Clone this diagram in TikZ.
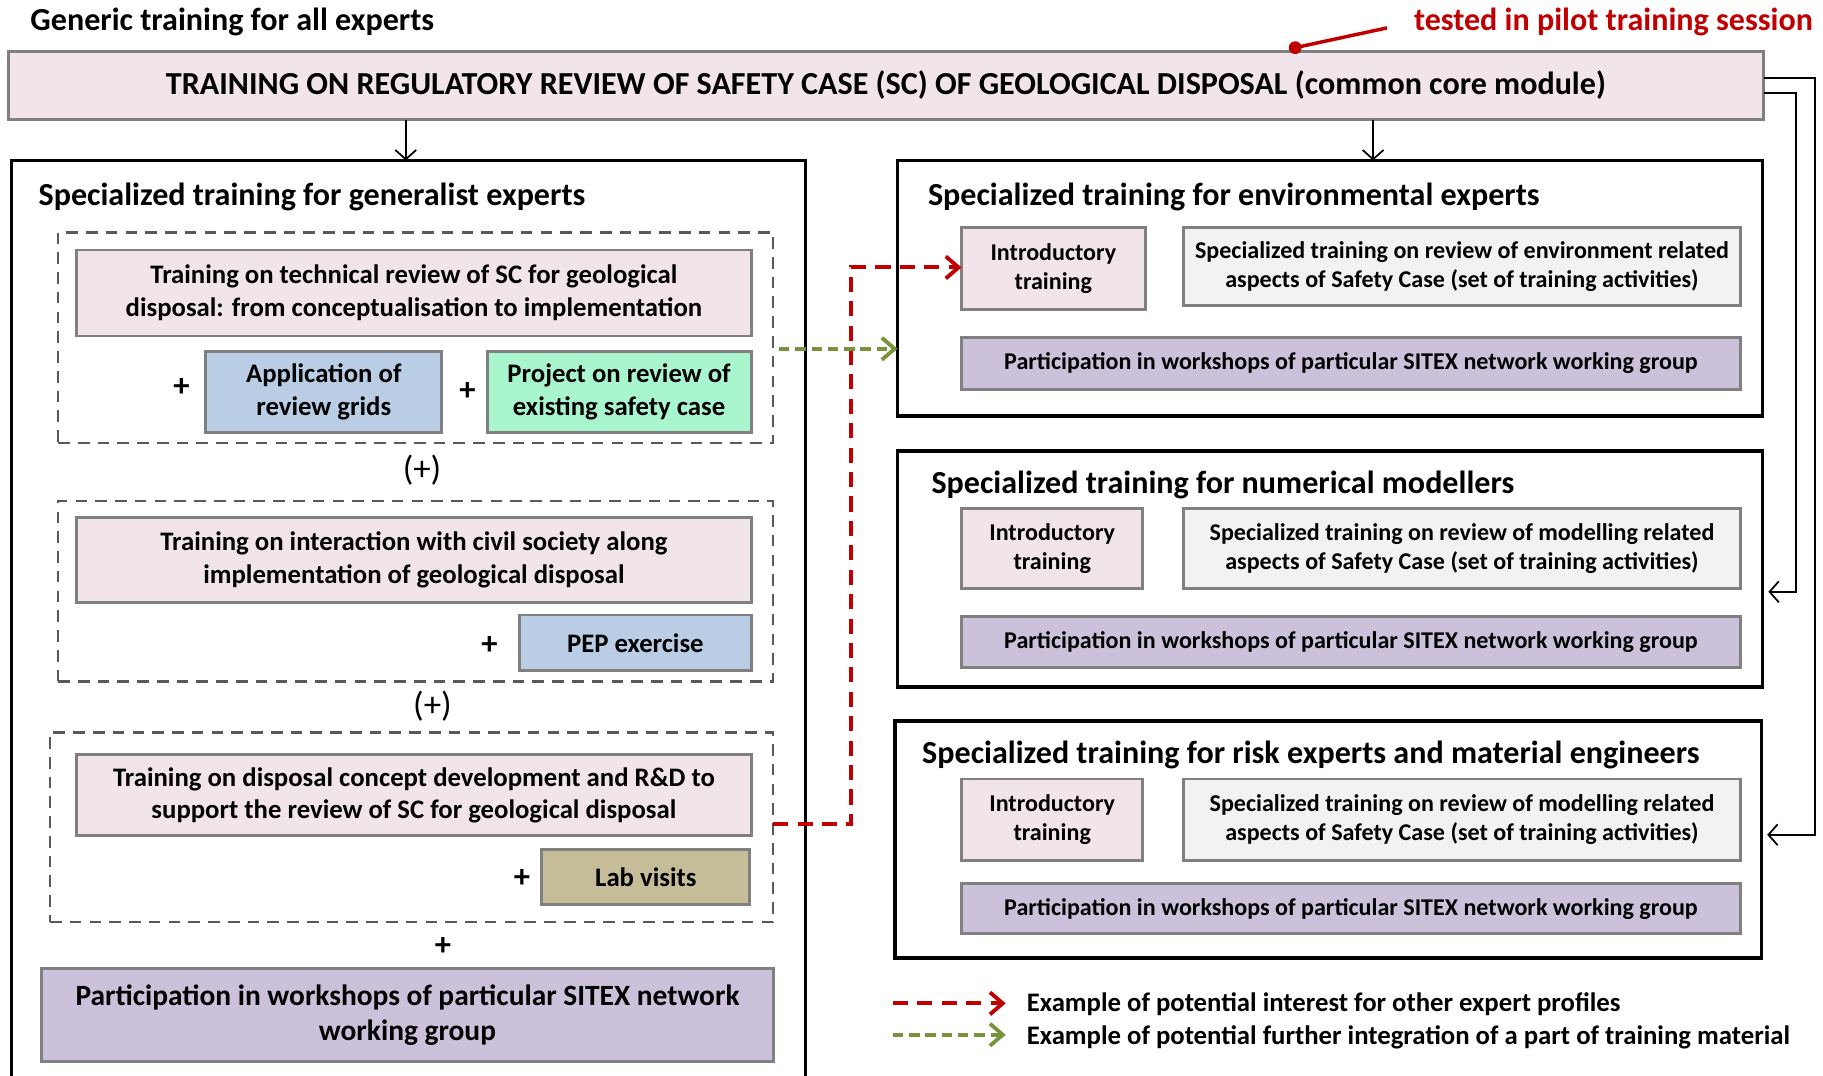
\documentclass[tikz,border=0pt]{standalone}
\usepackage{fontspec}
\setmainfont{Carlito}
\usetikzlibrary{arrows.meta,calc}
\definecolor{pinkf}{HTML}{F2E4EB}
\definecolor{blueff}{HTML}{B9CDE5}
\definecolor{greenff}{HTML}{A9F5CE}
\definecolor{tanf}{HTML}{C4BD97}
\definecolor{lavf}{HTML}{CCC1DA}
\definecolor{grayf}{HTML}{F2F2F2}
\definecolor{grayb}{HTML}{808080}
\definecolor{dashc}{HTML}{595959}
\definecolor{redc}{HTML}{C00000}
\definecolor{greenc}{HTML}{77933C}
\newcommand{\rbox}[7]{%
 \pgfmathsetmacro{\rbcx}{(#3+#5)/2}%
 \pgfmathsetmacro{\rbcy}{(#4+#6)/2}%
 \pgfmathsetmacro{\rbw}{#5-#3}%
 \pgfmathsetmacro{\rbh}{#6-#4}%
 \node[#2, minimum width=\rbw pt, minimum height=\rbh pt] (#1) at (\rbcx,\rbcy) {#7};}
\tikzset{
 gbox/.style={draw=grayb, line width=2.5pt, align=center, inner sep=0pt, outer sep=0pt},
 lfont/.style={font=\bfseries\fontsize{23}{28}\selectfont},
 rfont/.style={font=\bfseries\fontsize{20.7}{25}\selectfont},
 pinkbox/.style={gbox, fill=pinkf},
 bluebox/.style={gbox, fill=blueff},
 greenbox/.style={gbox, fill=greenff},
 tanbox/.style={gbox, fill=tanf},
 lavbox/.style={gbox, fill=lavf},
 graybox/.style={gbox, fill=grayf},
 dashgroup/.style={draw=dashc, line width=2.3pt, dash pattern=on 10pt off 7pt, inner sep=0pt, outer sep=0pt},
 blackframe/.style={draw=black, line width=3pt, inner sep=0pt, outer sep=0pt},
 head/.style={font=\bfseries\fontsize{27.6}{32}\selectfont, inner sep=0pt, anchor=west},
 plus/.style={font=\bfseries\fontsize{28}{30}\selectfont, inner sep=0pt},
 paren/.style={font=\fontsize{30}{32}\selectfont, inner sep=0pt},
 legtext/.style={font=\bfseries\fontsize{23}{26}\selectfont, inner sep=0pt, anchor=west},
 thinarrow/.style={draw=black, line width=1.5pt, -{Straight Barb[length=8pt,width=18pt]}},
 redarrow/.style={draw=redc, line width=3.3pt, dash pattern=on 13pt off 8pt, -{Straight Barb[length=11pt,width=19pt]}},
 greenarrow/.style={draw=greenc, line width=3.3pt, dash pattern=on 9pt off 5pt, -{Straight Barb[length=11pt,width=19pt]}},
}
\begin{document}
\begin{tikzpicture}[x=1pt,y=-1pt]
\useasboundingbox (0,0) rectangle (1568,925);
% headings
\node[head] (generic) at (26,19) {Generic training for all experts};
\node[head, text=redc] (pilot) at (1216,19) {tested in pilot training session};
% top box
\rbox{top}{pinkbox, font=\bfseries\fontsize{27.6}{32}\selectfont}{7}{44}{1517}{103}{TRAINING ON REGULATORY REVIEW OF SAFETY CASE (SC) OF GEOLOGICAL DISPOSAL (common core module)}
\coordinate (dot) at (1114,41);
\coordinate (lineend) at (1193,24);
\draw[redc, line width=3pt] (dot) -- (lineend);
\fill[redc] (dot) circle (5.5);
% frames
\rbox{gen}{blackframe}{10}{138}{693}{945}{}
\rbox{env}{blackframe}{772}{138}{1516}{358}{}
\rbox{num}{blackframe}{772}{388}{1516}{591}{}
\rbox{risk}{blackframe}{770}{620}{1515}{824}{}
\node[head] (gent) at (33,169) {Specialized training for generalist experts};
\node[head] (envt) at (798,169) {Specialized training for environmental experts};
\node[head] (numt) at (801,417) {Specialized training for numerical modellers};
\node[head] (riskt) at (793,649) {Specialized training for risk experts and material engineers};
% left groups
\rbox{g1}{dashgroup}{50}{200}{665}{381}{}
\rbox{g2}{dashgroup}{50}{431}{665}{586}{}
\rbox{g3}{dashgroup}{43}{630}{665}{793}{}
\rbox{t1}{pinkbox, lfont}{66}{215}{646}{289}{Training on technical review of SC for geological\\disposal: from conceptualisation to implementation}
\node[plus] (p1) at (156,333) {+};
\rbox{grids}{bluebox, lfont}{177}{302}{380}{372}{Application of\\review grids}
\node[plus] (p2) at (402,337) {+};
\rbox{proj}{greenbox, lfont}{419}{302}{646}{372}{Project on review of\\existing safety case}
\node[paren] (o1) at (363,404) {(+)};
\rbox{t2}{pinkbox, lfont}{66}{445}{646}{518}{Training on interaction with civil society along\\implementation of geological disposal}
\node[plus] (p3) at (421,555) {+};
\rbox{pep}{bluebox, lfont}{447}{529}{646}{577}{PEP exercise}
\node[paren] (o2) at (372,607) {(+)};
\rbox{t3}{pinkbox, lfont}{66}{649}{646}{719}{Training on disposal concept development and R\&D to\\support the review of SC for geological disposal}
\node[plus] (p4) at (449,756) {+};
\rbox{lab}{tanbox, lfont}{466}{731}{645}{778}{Lab visits}
\node[plus] (p5) at (381,814) {+};
\rbox{lpart}{lavbox, font=\bfseries\fontsize{25.3}{30}\selectfont}{36}{833}{665}{913}{Participation in workshops of particular SITEX network\\working group}
% env
\rbox{i1}{pinkbox, rfont}{827}{196}{985}{266}{Introductory\\training}
\rbox{s1}{graybox, rfont}{1018}{196}{1497}{263}{Specialized training on review of environment related\\aspects of Safety Case (set of training activities)}
\rbox{w1}{lavbox, rfont}{827}{290}{1497}{335}{Participation in workshops of particular SITEX network working group}
% num
\rbox{i2}{pinkbox, rfont}{827}{437}{983}{506}{Introductory\\training}
\rbox{s2}{graybox, rfont}{1018}{437}{1497}{506}{Specialized training on review of modelling related\\aspects of Safety Case (set of training activities)}
\rbox{w2}{lavbox, rfont}{827}{530}{1497}{574}{Participation in workshops of particular SITEX network working group}
% risk
\rbox{i3}{pinkbox, rfont}{827}{670}{983}{740}{Introductory\\training}
\rbox{s3}{graybox, rfont}{1018}{670}{1497}{740}{Specialized training on review of modelling related\\aspects of Safety Case (set of training activities)}
\rbox{w3}{lavbox, rfont}{827}{760}{1497}{803}{Participation in workshops of particular SITEX network working group}
% black connectors
\draw[thinarrow] (top.south -| 349,0) -- (gen.north -| 349,0);
\draw[thinarrow] (top.south -| 1181,0) -- (env.north -| 1181,0);
\draw[thinarrow] (top.east |- 0,67) -- (1561,67) -- (1561,718) -- ([xshift=5pt]risk.east |- 0,718);
\draw[thinarrow] (top.east |- 0,80) -- (1545,80) -- (1545,509) -- ([xshift=5pt]num.east |- 0,509);
% coloured dashed connectors
\draw[redarrow] (g3.east |- 0,709) -- (732,709) -- (732,230) -- (i1.west |- 0,230);
\draw[greenarrow] ([xshift=5pt]g1.east |- 0,300) -- (env.west |- 0,300);
% legend
\coordinate (lr1) at (768,863);
\coordinate (lr2) at (865,863);
\coordinate (lg1) at (768,890);
\coordinate (lg2) at (865,890);
\draw[redarrow] (lr1) -- (lr2);
\draw[greenarrow] (lg1) -- (lg2);
\node[legtext] (leg1) at (883,864) {Example of potential interest for other expert profiles};
\node[legtext] (leg2) at (883,892) {Example of potential further integration of a part of training material};
\end{tikzpicture}
\end{document}
